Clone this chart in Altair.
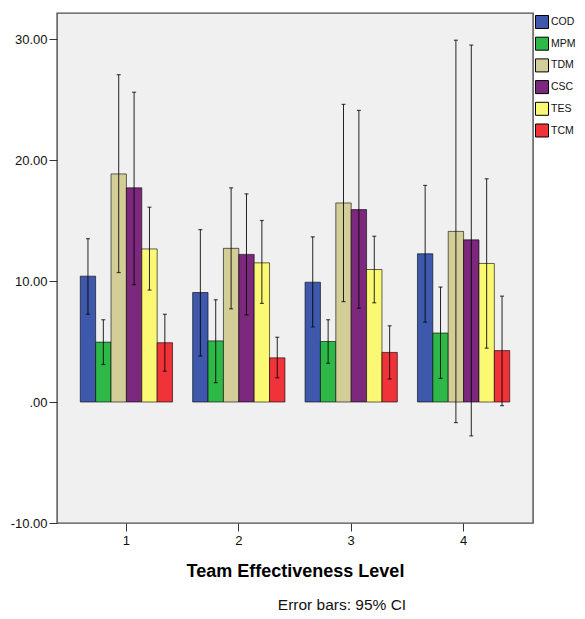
import altair as alt
import pandas as pd

groups = ["1", "2", "3", "4"]
series = ["COD", "MPM", "TDM", "CSC", "TES", "TCM"]
colors = ["#3E58AC", "#2EB848", "#D3CE97", "#7C287D", "#FBF873", "#EF3338"]

means = {
    "COD": [10.4, 9.05, 9.9, 12.25],
    "MPM": [4.95, 5.05, 5.0, 5.7],
    "TDM": [18.85, 12.7, 16.45, 14.1],
    "CSC": [17.7, 12.2, 15.9, 13.4],
    "TES": [12.65, 11.5, 10.95, 11.45],
    "TCM": [4.9, 3.65, 4.1, 4.25],
}
lower = {
    "COD": [7.25, 3.8, 6.2, 6.6],
    "MPM": [3.1, 1.6, 3.2, 1.95],
    "TDM": [10.7, 7.7, 8.3, -1.7],
    "CSC": [9.7, 7.2, 7.75, -2.8],
    "TES": [9.25, 8.15, 8.2, 4.45],
    "TCM": [2.55, 2.0, 1.9, -0.3],
}
upper = {
    "COD": [13.5, 14.25, 13.65, 17.9],
    "MPM": [6.8, 8.45, 6.8, 9.5],
    "TDM": [27.05, 17.7, 24.6, 29.9],
    "CSC": [25.6, 17.2, 24.1, 29.5],
    "TES": [16.1, 15.0, 13.7, 18.45],
    "TCM": [7.25, 5.35, 6.3, 8.75],
}
y_ticks = [-10, 0, 10, 20, 30]

rows = []
for s in series:
    for i, g in enumerate(groups):
        rows.append({"level": g, "series": s, "mean": means[s][i],
                     "lo": lower[s][i], "hi": upper[s][i]})
df = pd.DataFrame(rows)

FONT = "Liberation Sans"

x_enc = alt.X("level:N", sort=groups,
              scale=alt.Scale(paddingInner=0.179, paddingOuter=0.207),
              axis=alt.Axis(title="Team Effectiveness Level", labelAngle=0,
                            labelFontSize=13, titleFontSize=18, titleFontWeight="bold",
                            titlePadding=15, tickSize=8, labelPadding=3,
                            domain=False, tickColor="#333", labelColor="#111",
                            titleColor="#000", labelFont=FONT, titleFont=FONT))
xoff = alt.XOffset("series:N", sort=series,
                   scale=alt.Scale(domain=series, paddingInner=0, paddingOuter=0))
y_scale = alt.Scale(domain=[-10, 32.15], nice=False, zero=False)

bars = alt.Chart(df).mark_bar(stroke="black", strokeWidth=1, strokeOpacity=0.6).encode(
    x=x_enc,
    xOffset=xoff,
    y=alt.Y("mean:Q", scale=y_scale,
            axis=alt.Axis(title=None, values=y_ticks, tickSize=8, labelPadding=2,
                          labelFontSize=13, labelFont=FONT, domain=False, grid=False,
                          tickColor="#333", labelColor="#111",
                          labelExpr="datum.value == 0 ? '.00' : (datum.value < 0 ? '-' + format(-datum.value, '.2f') : format(datum.value, '.2f'))")),
    y2=alt.datum(0),
    color=alt.Color("series:N", sort=series,
                    scale=alt.Scale(domain=series, range=colors),
                    legend=alt.Legend(title=None, orient="none", legendX=478, legendY=2,
                                      padding=0, symbolType="square", symbolSize=169,
                                      symbolStrokeColor="black", symbolStrokeWidth=1,
                                      labelFontSize=10.5, labelFont=FONT, rowPadding=3.7,
                                      labelOffset=2, labelColor="#111")),
)

rules = alt.Chart(df).mark_rule(color="black", strokeWidth=1, opacity=0.85).encode(
    x=alt.X("level:N", sort=groups),
    xOffset=xoff,
    y=alt.Y("lo:Q", scale=y_scale),
    y2="hi:Q",
)
cap_hi = alt.Chart(df).mark_tick(color="black", size=4, thickness=1.2).encode(
    x=alt.X("level:N", sort=groups),
    xOffset=xoff,
    y=alt.Y("hi:Q", scale=y_scale),
)
cap_lo = alt.Chart(df).mark_tick(color="black", size=4, thickness=1.2).encode(
    x=alt.X("level:N", sort=groups),
    xOffset=xoff,
    y=alt.Y("lo:Q", scale=y_scale),
)

chart = alt.layer(bars, rules, cap_hi, cap_lo).properties(
    width=476, height=510,
    background="white",
    autosize=alt.AutoSizeParams(type="none"),
    padding={"left": 49, "top": 5, "right": 44, "bottom": 96},
    title=alt.TitleParams(text="Error bars: 95% CI", orient="bottom", anchor="middle",
                          dx=47, offset=18, fontSize=15.5, fontWeight="normal",
                          font=FONT, color="#111", baseline="top"),
).configure_view(
    fill="#F0F0F0", stroke="#4d4d4d", strokeWidth=1.4
)

chart.save("out.html", embed_options={"renderer": "svg", "actions": False})
